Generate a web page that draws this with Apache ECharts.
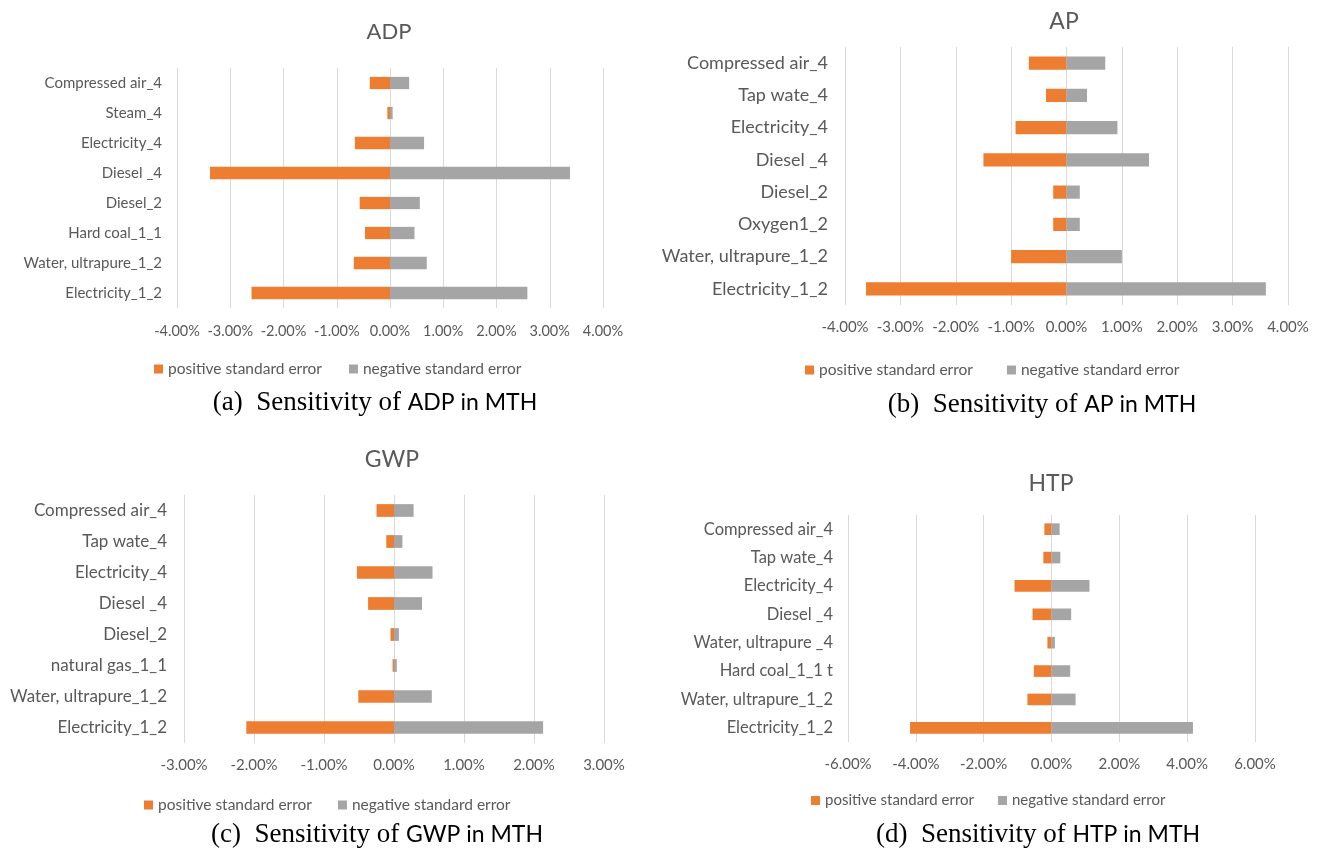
<!DOCTYPE html>
<html><head><meta charset="utf-8">
<script src="https://cdn.jsdelivr.net/npm/echarts@6/dist/echarts.min.js"></script>
<style>html,body{margin:0;padding:0;background:#fff}#c{width:1320px;height:850px}</style>
</head><body><div id="c"></div>
<script>
// ---------- data ----------
const seriesNames = ['positive standard error', 'negative standard error'];

const adpCategories = ['Compressed air_4','Steam_4','Electricity_4','Diesel _4','Diesel_2','Hard coal_1_1','Water, ultrapure_1_2','Electricity_1_2'];
const adpPositive = [-0.38,-0.05,-0.66,-3.38,-0.57,-0.47,-0.68,-2.60];
const adpNegative = [0.36,0.05,0.64,3.38,0.56,0.46,0.69,2.58];

const apCategories = ['Compressed air_4','Tap wate_4','Electricity_4','Diesel _4','Diesel_2','Oxygen1_2','Water, ultrapure_1_2','Electricity_1_2'];
const apPositive = [-0.68,-0.37,-0.92,-1.50,-0.24,-0.24,-1.00,-3.62];
const apNegative = [0.70,0.37,0.92,1.49,0.24,0.24,1.00,3.60];

const gwpCategories = ['Compressed air_4','Tap wate_4','Electricity_4','Diesel _4','Diesel_2','natural gas_1_1','Water, ultrapure_1_2','Electricity_1_2'];
const gwpPositive = [-0.25,-0.11,-0.53,-0.37,-0.05,-0.02,-0.51,-2.11];
const gwpNegative = [0.28,0.12,0.55,0.40,0.07,0.04,0.54,2.13];

const htpCategories = ['Compressed air_4','Tap wate_4','Electricity_4','Diesel _4','Water, ultrapure _4','Hard coal_1_1 t','Water, ultrapure_1_2','Electricity_1_2'];
const htpPositive = [-0.21,-0.24,-1.09,-0.56,-0.12,-0.52,-0.71,-4.17];
const htpNegative = [0.24,0.26,1.12,0.58,0.10,0.55,0.71,4.17];

const chartTitles = ['ADP','AP','GWP','HTP'];
const captionPrefix = ['(a)  Sensitivity of ','(b)  Sensitivity of ','(c)  Sensitivity of ','(d)  Sensitivity of '];
const captionSuffix = ['ADP in MTH','AP in MTH','GWP in MTH','HTP in MTH'];

// ---------- layout ----------
const SANS = 'Lato';
const panels = [
  {cats: adpCategories, pos: adpPositive, neg: adpNegative, min:-4, max:4, interval:1,
   grid:{left:177, top:68, width:426, height:240}, catSize:15, catMargin:15, tickMargin:16, tickSize:14.5,
   title:{x:389, y:32, size:22}, legend:{left:149, top:356, size:15.5, gap:27}, caption:{x:375, y:403}},
  {cats: apCategories, pos: apPositive, neg: apNegative, min:-4, max:4, interval:1,
   grid:{left:845, top:47, width:443, height:258}, catSize:18, catMargin:17, tickMargin:15, tickSize:15,
   title:{x:1064, y:22, size:23}, legend:{left:800, top:357, size:15.5, gap:34}, caption:{x:1042, y:405}},
  {cats: gwpCategories, pos: gwpPositive, neg: gwpNegative, min:-3, max:3, interval:1,
   grid:{left:184, top:495, width:420, height:248}, catSize:17, catMargin:17, tickMargin:15, tickSize:15,
   title:{x:392, y:460, size:23}, legend:{left:139, top:792, size:15.5, gap:26}, caption:{x:377, y:835}},
  {cats: htpCategories, pos: htpPositive, neg: htpNegative, min:-6, max:6, interval:2,
   grid:{left:848, top:515, width:407, height:227}, catSize:16.5, catMargin:15, tickMargin:15, tickSize:15,
   title:{x:1051, y:484, size:23}, legend:{left:806, top:788, size:15, gap:24}, caption:{x:1038, y:835}}
];

const ORANGE = '#ED7D31', GRAY = '#A5A5A5', TXT = '#595959';

const option = {
  animation: false,
  backgroundColor: '#ffffff',
  grid: panels.map(p => Object.assign({containLabel:false}, p.grid)),
  xAxis: panels.map((p, i) => ({
    gridIndex: i, type: 'value', min: p.min, max: p.max, interval: p.interval,
    axisLine: {show: false}, axisTick: {show: false},
    axisLabel: {formatter: v => v.toFixed(2) + '%', color: TXT, fontSize: p.tickSize, fontFamily: SANS, margin: p.tickMargin},
    splitLine: {show: true, lineStyle: {color: '#d9d9d9', width: 1}}
  })),
  yAxis: panels.map((p, i) => ({
    gridIndex: i, type: 'category', data: p.cats, inverse: true,
    axisLine: {show: false}, axisTick: {show: false}, splitLine: {show: false},
    axisLabel: {color: TXT, fontSize: p.catSize, fontFamily: SANS, margin: p.catMargin}
  })),
  legend: panels.map(p => ({
    data: seriesNames, left: p.legend.left, top: p.legend.top, orient: 'horizontal',
    icon: 'rect', itemWidth: 9, itemHeight: 9, itemGap: p.legend.gap,
    textStyle: {color: TXT, fontSize: p.legend.size, fontFamily: SANS}
  })),
  series: panels.flatMap((p, i) => [
    {type: 'bar', name: seriesNames[0], xAxisIndex: i, yAxisIndex: i, data: p.pos,
     barWidth: '41%', barGap: '-100%', itemStyle: {color: ORANGE}},
    {type: 'bar', name: seriesNames[1], xAxisIndex: i, yAxisIndex: i, data: p.neg,
     barWidth: '41%', barGap: '-100%', itemStyle: {color: GRAY}}
  ]),
  graphic: panels.flatMap((p, i) => [
    {type: 'text', x: p.title.x, y: p.title.y, style: {
      text: chartTitles[i], fill: TXT, fontSize: p.title.size, fontFamily: SANS,
      align: 'center', verticalAlign: 'middle'}},
    {type: 'text', x: p.caption.x, y: p.caption.y, style: {
      text: '{s|' + captionPrefix[i] + '}{n|' + captionSuffix[i] + '}',
      align: 'center', verticalAlign: 'middle',
      rich: {
        s: {fontFamily: 'Liberation Serif', fontSize: 27, fill: '#000'},
        n: {fontFamily: SANS, fontSize: 23, fill: '#000'}
      }}}
  ])
};

const chart = echarts.init(document.getElementById('c'));
chart.setOption(option);
</script>
</body></html>
